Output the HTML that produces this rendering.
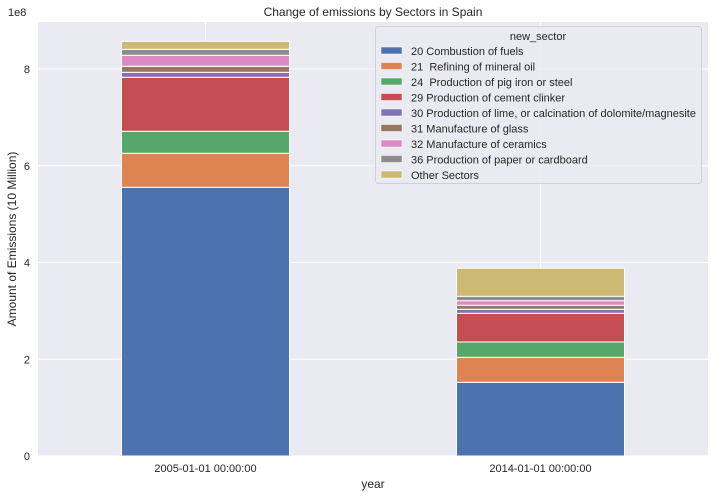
<!DOCTYPE html>
<html><head><meta charset="utf-8"><style>
body{margin:0;background:#fff;font-family:"Liberation Sans",sans-serif}
text{white-space:pre}
</style></head><body>
<svg id="c" width="713" height="496" xmlns="http://www.w3.org/2000/svg" font-family="Liberation Sans, sans-serif"></svg>
<script>
const categories=["2005-01-01 00:00:00","2014-01-01 00:00:00"];
const sectors=["20 Combustion of fuels","21  Refining of mineral oil","24  Production of pig iron or steel","29 Production of cement clinker","30 Production of lime, or calcination of dolomite/magnesite","31 Manufacture of glass","32 Manufacture of ceramics","36 Production of paper or cardboard","Other Sectors"];
const colors=["#4c72b0","#dd8452","#55a868","#c44e52","#8172b3","#937860","#da8bc3","#8c8c8c","#ccb974"];
const v2005=[5.555e8,0.703e8,0.455e8,1.116e8,0.103e8,0.124e8,0.227e8,0.124e8,0.165e8];
const v2014=[1.523e8,0.517e8,0.317e8,0.593e8,0.083e8,0.083e8,0.095e8,0.091e8,0.579e8];
const series=[v2005,v2014];
const yTicks=[0,2e8,4e8,6e8,8e8];
const yTickLabels=["0","2","4","6","8"];

const svg=document.getElementById('c');
const NS="http://www.w3.org/2000/svg";
function mk(t,a,p){const e=document.createElementNS(NS,t);for(const k in a)e.setAttribute(k,a[k]);(p||svg).appendChild(e);return e;}
const L=38,R=708,T=22,B=456;
const y=v=>B-v/2e8*96.75;
const x=i=>L+(R-L)*(i+0.5)/categories.length;
const bw=168;
const bg=mk('rect',{x:L,y:T,width:R-L,height:B-T,fill:'#eaeaf2'});


yTicks.forEach((t,i)=>{
 const g=mk('line',{x1:L,x2:R,y1:y(t),y2:y(t),stroke:'#fff','stroke-width':1});
 
 
 const tx=mk('text',{x:L-8,y:y(t)+4,'text-anchor':'end','font-size':11,fill:'#262626'});
 tx.textContent=yTickLabels[i];
 
 
});
categories.forEach((c,i)=>{
 const g=mk('line',{x1:x(i),x2:x(i),y1:T,y2:B,stroke:'#fff','stroke-width':1});
 
 
 let cum=0;
 series[i].forEach((v,j)=>{
  const r=mk('rect',{x:x(i)-bw/2,y:y(cum+v),width:bw,height:y(cum)-y(cum+v),fill:colors[j],stroke:'#fff','stroke-width':1});
  
  
  cum+=v;
 });
 const tx=mk('text',{x:x(i),y:B+16,'text-anchor':'middle','font-size':11,fill:'#262626'});
 tx.textContent=c;
 
 
});
function label(txt,a,name){const t=mk('text',a);t.textContent=txt;return t;}
label('Change of emissions by Sectors in Spain',{x:(L+R)/2,y:16,'text-anchor':'middle','font-size':12,fill:'#262626'},'chart-title');
label('1e8',{x:8,y:16,'font-size':11,fill:'#262626'},'y-offset-label');
label('year',{x:(L+R)/2,y:488,'text-anchor':'middle','font-size':12,fill:'#262626'},'x-axis-title');
label('Amount of Emissions (10 Million)',{x:16,y:(T+B)/2,'text-anchor':'middle','font-size':12,fill:'#262626',transform:`rotate(-90 16 ${(T+B)/2})`},'y-axis-title');
const lg=mk('g',{});


mk('rect',{x:375.5,y:26.5,width:326,height:157,rx:3,fill:'#eaeaf2','fill-opacity':0.8,stroke:'#d0d0d8'},lg);
const lt=mk('text',{x:538,y:40,'text-anchor':'middle','font-size':11,fill:'#262626'},lg);lt.textContent='new_sector';


sectors.forEach((s,j)=>{
 const yy=51+j*15.5;
 const p=mk('rect',{x:381,y:yy-4,width:21,height:7,fill:colors[j],stroke:'#fff','stroke-width':0.5},lg);
 
 
 const t=mk('text',{x:411,y:yy+4,'font-size':11,fill:'#262626'},lg);t.textContent=s;
 
 
});
</script>
</body></html>
